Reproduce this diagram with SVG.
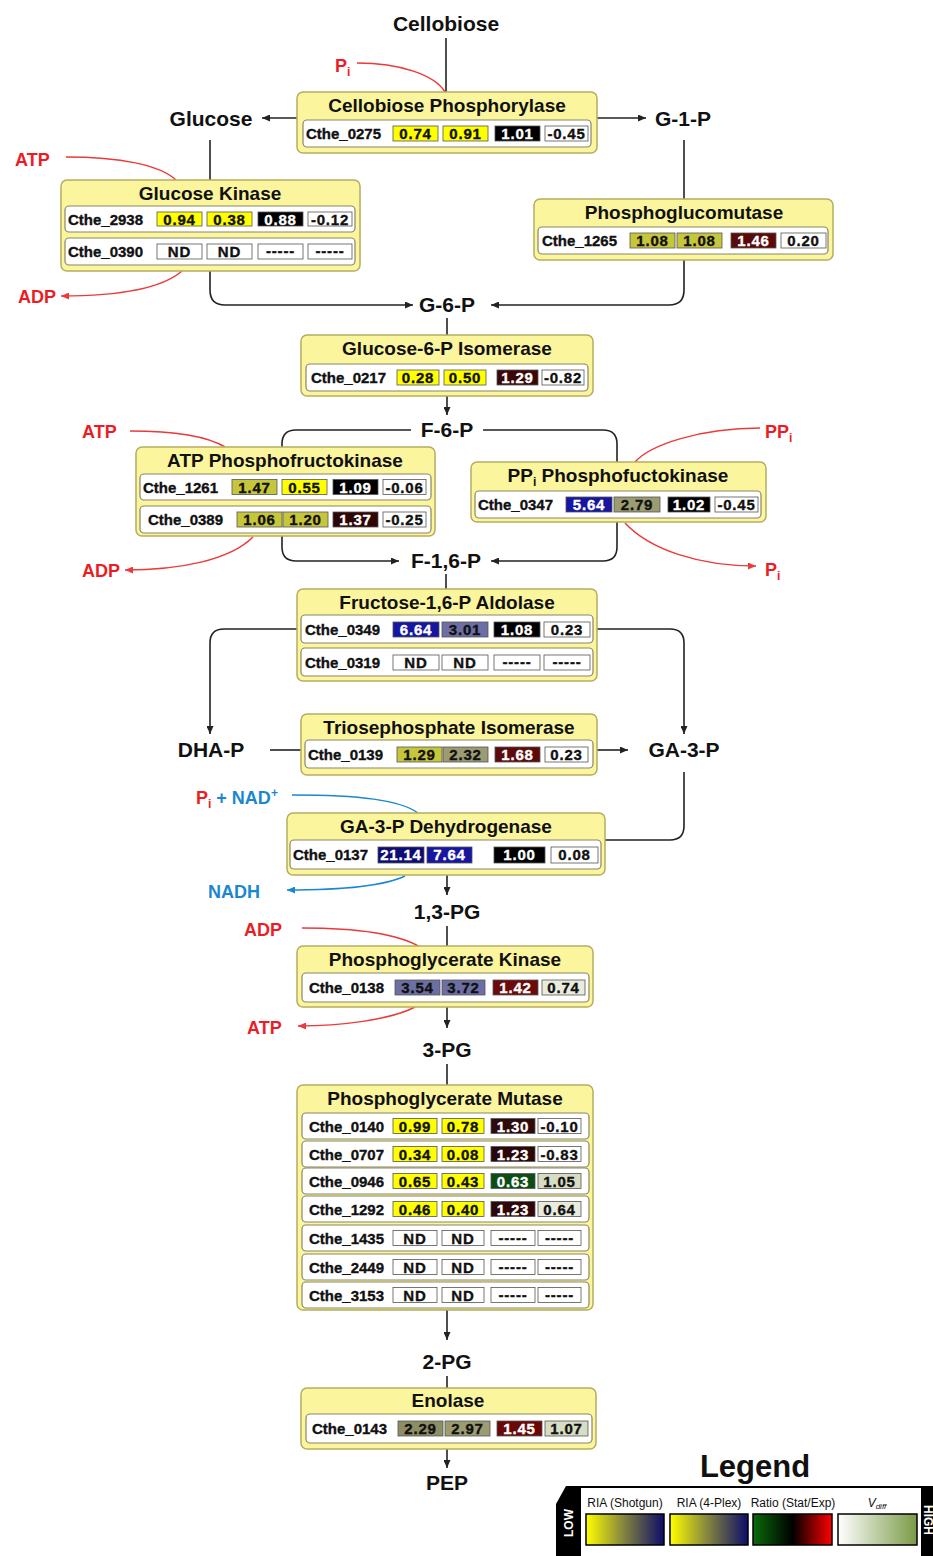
<svg xmlns="http://www.w3.org/2000/svg" width="933" height="1556" viewBox="0 0 933 1556">
<defs>
<style>
text{font-family:"Liberation Sans",Arial,sans-serif;font-weight:bold}
.enz{fill:#fbf59e;stroke:#b5ad62;stroke-width:1.5}
.row{fill:#fff;stroke:#8a8668;stroke-width:1.2}
.c{stroke:#555;stroke-width:0.8}
.t{font-size:19px;text-anchor:middle;fill:#111}
.id{font-size:15px;fill:#111;stroke:#111;stroke-width:0.35}
.v{font-size:15px;text-anchor:middle;fill:#111;stroke:#111;stroke-width:0.35;letter-spacing:0.8px}
.vw{fill:#fff;stroke:#fff}
.m{font-size:21px;text-anchor:middle;fill:#111}
.r{font-size:18px;fill:#ec1c24}
.b{font-size:18px;fill:#1b87cf}
.ln{fill:none;stroke:#222;stroke-width:1.6}
.lr{fill:none;stroke:#ec3a3a;stroke-width:1.5}
.lb{fill:none;stroke:#1b87cf;stroke-width:1.5}
.Y{fill:#ffff00}.O{fill:#c6c63c}.G{fill:#9c9c72}.B{fill:#6c6ea4}.N{fill:#1616a0}.D{fill:#0c0c74}.K{fill:#000}.W{fill:#fff}.L{fill:#e9ecdc}.L2{fill:#d6ddc2}.GR{fill:#0b4d14}
.lg{font-family:"Liberation Sans",Arial,sans-serif;font-weight:normal;font-size:12px;text-anchor:middle;fill:#111}
</style>
<marker id="ak" viewBox="0 0 8 7" refX="8" refY="3.5" markerWidth="8" markerHeight="7" markerUnits="userSpaceOnUse" orient="auto"><path d="M0,0L8,3.5L0,7z" fill="#222"/></marker>
<marker id="ar" viewBox="0 0 8 7" refX="8" refY="3.5" markerWidth="8" markerHeight="7" markerUnits="userSpaceOnUse" orient="auto"><path d="M0,0L8,3.5L0,7z" fill="#ec3a3a"/></marker>
<marker id="ab" viewBox="0 0 8 7" refX="8" refY="3.5" markerWidth="8" markerHeight="7" markerUnits="userSpaceOnUse" orient="auto"><path d="M0,0L8,3.5L0,7z" fill="#1b87cf"/></marker>
<linearGradient id="g1"><stop offset="0" stop-color="#ffff00"/><stop offset="0.45" stop-color="#8c8c3c"/><stop offset="1" stop-color="#0c0c6a"/></linearGradient>
<linearGradient id="g3"><stop offset="0" stop-color="#0a6a0a"/><stop offset="0.5" stop-color="#000"/><stop offset="1" stop-color="#ff0000"/></linearGradient>
<linearGradient id="g4"><stop offset="0" stop-color="#ffffff"/><stop offset="1" stop-color="#7a9a46"/></linearGradient>
</defs>
<rect width="933" height="1556" fill="#fff"/>

<g id="connectors">
<path class="ln" d="M446,38V92"/>
<path class="ln" d="M297,118H262" marker-end="url(#ak)"/>
<path class="ln" d="M597,118H646" marker-end="url(#ak)"/>
<path class="ln" d="M210,140V180"/>
<path class="ln" d="M210,271V290Q210,305 225,305H413" marker-end="url(#ak)"/>
<path class="ln" d="M684,140V199"/>
<path class="ln" d="M684,260V290Q684,305 669,305H491" marker-end="url(#ak)"/>
<path class="ln" d="M447,318V335"/>
<path class="ln" d="M447,396V415" marker-end="url(#ak)"/>
<path class="ln" d="M411,430H296Q282,430 282,444V447"/>
<path class="ln" d="M483,430H603Q617,430 617,444V462"/>
<path class="ln" d="M282,536V547Q282,561 296,561H399" marker-end="url(#ak)"/>
<path class="ln" d="M617,522V547Q617,561 603,561H491" marker-end="url(#ak)"/>
<path class="ln" d="M446,574V589"/>
<path class="ln" d="M297,629H224Q210,629 210,643V734" marker-end="url(#ak)"/>
<path class="ln" d="M597,629H670Q684,629 684,643V734" marker-end="url(#ak)"/>
<path class="ln" d="M270,750H301"/>
<path class="ln" d="M597,750H628" marker-end="url(#ak)"/>
<path class="ln" d="M684,772V826Q684,840 670,840H605"/>
<path class="ln" d="M447,875V895" marker-end="url(#ak)"/>
<path class="ln" d="M447,926V946"/>
<path class="ln" d="M447,1007V1028" marker-end="url(#ak)"/>
<path class="ln" d="M447,1064V1085"/>
<path class="ln" d="M447,1310V1340" marker-end="url(#ak)"/>
<path class="ln" d="M447,1376V1388"/>
<path class="ln" d="M447,1449V1468" marker-end="url(#ak)"/>
<path class="lr" d="M357,63C400,63 435,75 445,92"/>
<path class="lr" d="M66,157C120,157 160,165 176,180"/>
<path class="lr" d="M182,271C160,290 110,296 61,296" marker-end="url(#ar)"/>
<path class="lr" d="M130,431C180,431 210,438 225,447"/>
<path class="lr" d="M253,537C230,560 180,570 125,570" marker-end="url(#ar)"/>
<path class="lr" d="M760,428C700,428 650,445 635,462"/>
<path class="lr" d="M625,523C650,550 700,566 756,566" marker-end="url(#ar)"/>
<path class="lb" d="M292,795C360,795 400,800 418,813"/>
<path class="lb" d="M405,876C380,888 330,890 287,890" marker-end="url(#ab)"/>
<path class="lr" d="M302,928C360,928 400,935 420,947"/>
<path class="lr" d="M415,1007C390,1020 340,1026 298,1026" marker-end="url(#ar)"/>
</g>

<g id="metabolites">
<text class="m" x="446" y="31">Cellobiose</text>
<text class="m" x="211" y="126">Glucose</text>
<text class="m" x="683" y="126">G-1-P</text>
<text class="m" x="447" y="312">G-6-P</text>
<text class="m" x="447" y="437">F-6-P</text>
<text class="m" x="446" y="568">F-1,6-P</text>
<text class="m" x="211" y="757">DHA-P</text>
<text class="m" x="684" y="757">GA-3-P</text>
<text class="m" x="447" y="919">1,3-PG</text>
<text class="m" x="447" y="1057">3-PG</text>
<text class="m" x="447" y="1369">2-PG</text>
<text class="m" x="447" y="1490">PEP</text>
</g>

<g id="cofactors">
<text class="r" x="335" y="72">P<tspan font-size="12" dy="4">i</tspan></text>
<text class="r" x="15" y="166">ATP</text>
<text class="r" x="18" y="303">ADP</text>
<text class="r" x="82" y="438">ATP</text>
<text class="r" x="82" y="577">ADP</text>
<text class="r" x="765" y="438">PP<tspan font-size="12" dy="4">i</tspan></text>
<text class="r" x="765" y="576">P<tspan font-size="12" dy="4">i</tspan></text>
<text class="r" x="196" y="804">P<tspan font-size="12" dy="4">i</tspan><tspan fill="#1b87cf" dy="-4"> + NAD</tspan><tspan fill="#1b87cf" font-size="12" dy="-7">+</tspan></text>
<text class="b" x="208" y="898">NADH</text>
<text class="r" x="244" y="936">ADP</text>
<text class="r" x="247" y="1034">ATP</text>
</g>

<g id="cellobiose-phosphorylase">
<rect class="enz" x="297" y="92" width="300" height="61" rx="6"/>
<text class="t" x="447" y="112">Cellobiose Phosphorylase</text>
<rect class="row" x="303" y="120" width="288" height="27" rx="4"/>
<text class="id" x="306" y="139">Cthe_0275</text>
<rect class="c Y" x="393" y="126" width="45" height="15"/><text class="v" x="415.5" y="139">0.74</text>
<rect class="c Y" x="443" y="126" width="45" height="15"/><text class="v" x="465.5" y="139">0.91</text>
<rect class="c K" x="495" y="126" width="45" height="15"/><text class="v vw" x="517.5" y="139">1.01</text>
<rect class="c W" x="545" y="126" width="43" height="15"/><text class="v" x="566.5" y="139">-0.45</text>
</g>

<g id="glucose-kinase">
<rect class="enz" x="61" y="180" width="299" height="91" rx="6"/>
<text class="t" x="210" y="200">Glucose Kinase</text>
<rect class="row" x="65" y="206" width="290" height="26" rx="4"/>
<text class="id" x="68" y="224.5">Cthe_2938</text>
<rect class="c Y" x="157" y="212" width="45" height="14"/><text class="v" x="179.5" y="224.5">0.94</text>
<rect class="c Y" x="207" y="212" width="45" height="14"/><text class="v" x="229.5" y="224.5">0.38</text>
<rect class="c K" x="258" y="212" width="45" height="14"/><text class="v vw" x="280.5" y="224.5">0.88</text>
<rect class="c W" x="308" y="212" width="44" height="14"/><text class="v" x="330" y="224.5">-0.12</text>
<rect class="row" x="65" y="238" width="290" height="27" rx="4"/>
<text class="id" x="68" y="257">Cthe_0390</text>
<rect class="c W" x="157" y="244" width="45" height="15"/><text class="v" x="179.5" y="257">ND</text>
<rect class="c W" x="207" y="244" width="45" height="15"/><text class="v" x="229.5" y="257">ND</text>
<rect class="c W" x="258" y="244" width="45" height="15"/><text class="v" x="280.5" y="256">-----</text>
<rect class="c W" x="308" y="244" width="44" height="15"/><text class="v" x="330" y="256">-----</text>
</g>

<g id="phosphoglucomutase">
<rect class="enz" x="534" y="199" width="299" height="61" rx="6"/>
<text class="t" x="684" y="219">Phosphoglucomutase</text>
<rect class="row" x="538" y="227" width="290" height="27" rx="4"/>
<text class="id" x="542" y="246">Cthe_1265</text>
<rect class="c O" x="630" y="233" width="45" height="15"/><text class="v" x="652.5" y="246">1.08</text>
<rect class="c O" x="677" y="233" width="45" height="15"/><text class="v" x="699.5" y="246">1.08</text>
<rect class="c" fill="#5a0a0a" x="731" y="233" width="45" height="15"/><text class="v vw" x="753.5" y="246">1.46</text>
<rect class="c W" x="781" y="233" width="45" height="15"/><text class="v" x="803.5" y="246">0.20</text>
</g>

<g id="glucose-6-p-isomerase">
<rect class="enz" x="301" y="335" width="292" height="61" rx="6"/>
<text class="t" x="447" y="355">Glucose-6-P Isomerase</text>
<rect class="row" x="306" y="364" width="282" height="27" rx="4"/>
<text class="id" x="311" y="383">Cthe_0217</text>
<rect class="c Y" x="397" y="370" width="42" height="15"/><text class="v" x="418" y="383">0.28</text>
<rect class="c Y" x="444" y="370" width="42" height="15"/><text class="v" x="465" y="383">0.50</text>
<rect class="c" fill="#3a0808" x="497" y="370" width="41" height="15"/><text class="v vw" x="517.5" y="383">1.29</text>
<rect class="c W" x="542" y="370" width="42" height="15"/><text class="v" x="563" y="383">-0.82</text>
</g>

<g id="atp-phosphofructokinase">
<rect class="enz" x="136" y="447" width="299" height="89" rx="6"/>
<text class="t" x="285" y="467">ATP Phosphofructokinase</text>
<rect class="row" x="140" y="474" width="291" height="26" rx="4"/>
<text class="id" x="143" y="492.5">Cthe_1261</text>
<rect class="c O" x="232" y="479.5" width="45" height="15"/><text class="v" x="254.5" y="492.5">1.47</text>
<rect class="c Y" x="282" y="479.5" width="45" height="15"/><text class="v" x="304.5" y="492.5">0.55</text>
<rect class="c K" x="333" y="479.5" width="45" height="15"/><text class="v vw" x="355.5" y="492.5">1.09</text>
<rect class="c W" x="383" y="479.5" width="43" height="15"/><text class="v" x="404.5" y="492.5">-0.06</text>
<rect class="row" x="140" y="506" width="291" height="27" rx="4"/>
<text class="id" x="148" y="525">Cthe_0389</text>
<rect class="c O" x="237" y="512" width="45" height="15"/><text class="v" x="259.5" y="525">1.06</text>
<rect class="c O" x="283" y="512" width="45" height="15"/><text class="v" x="305.5" y="525">1.20</text>
<rect class="c" fill="#2e0606" x="333" y="512" width="45" height="15"/><text class="v vw" x="355.5" y="525">1.37</text>
<rect class="c W" x="383" y="512" width="43" height="15"/><text class="v" x="404.5" y="525">-0.25</text>
</g>

<g id="ppi-phosphofructokinase">
<rect class="enz" x="471" y="462" width="295" height="60" rx="6"/>
<text class="t" x="618" y="482">PP<tspan font-size="12" dy="4">i</tspan><tspan dy="-4"> Phosphofuctokinase</tspan></text>
<rect class="row" x="475" y="491" width="286" height="27" rx="4"/>
<text class="id" x="478" y="510">Cthe_0347</text>
<rect class="c N" x="566" y="497" width="46" height="15"/><text class="v vw" x="589" y="510">5.64</text>
<rect class="c G" x="614" y="497" width="46" height="15"/><text class="v" x="637" y="510">2.79</text>
<rect class="c K" x="668" y="497" width="42" height="15"/><text class="v vw" x="689" y="510">1.02</text>
<rect class="c W" x="715" y="497" width="43" height="15"/><text class="v" x="736.5" y="510">-0.45</text>
</g>

<g id="fructose-aldolase">
<rect class="enz" x="297" y="589" width="300" height="92" rx="6"/>
<text class="t" x="447" y="609">Fructose-1,6-P Aldolase</text>
<rect class="row" x="301" y="615" width="292" height="28" rx="4"/>
<text class="id" x="305" y="634.5">Cthe_0349</text>
<rect class="c N" x="393" y="622" width="46" height="15"/><text class="v vw" x="416" y="634.5">6.64</text>
<rect class="c B" x="442" y="622" width="46" height="15"/><text class="v" x="465" y="634.5" fill="#1a1a3a">3.01</text>
<rect class="c K" x="494" y="622" width="46" height="15"/><text class="v vw" x="517" y="634.5">1.08</text>
<rect class="c W" x="544" y="622" width="46" height="15"/><text class="v" x="567" y="634.5">0.23</text>
<rect class="row" x="301" y="648" width="292" height="28" rx="4"/>
<text class="id" x="305" y="667.5">Cthe_0319</text>
<rect class="c W" x="393" y="655" width="46" height="15"/><text class="v" x="416" y="667.5">ND</text>
<rect class="c W" x="442" y="655" width="46" height="15"/><text class="v" x="465" y="667.5">ND</text>
<rect class="c W" x="494" y="655" width="46" height="15"/><text class="v" x="517" y="666.5">-----</text>
<rect class="c W" x="544" y="655" width="46" height="15"/><text class="v" x="567" y="666.5">-----</text>
</g>

<g id="triosephosphate-isomerase">
<rect class="enz" x="301" y="714" width="296" height="61" rx="6"/>
<text class="t" x="449" y="734">Triosephosphate Isomerase</text>
<rect class="row" x="305" y="740" width="288" height="28" rx="4"/>
<text class="id" x="308" y="759.5">Cthe_0139</text>
<rect class="c O" x="397" y="747" width="45" height="15"/><text class="v" x="419.5" y="759.5">1.29</text>
<rect class="c G" x="443" y="747" width="45" height="15"/><text class="v" x="465.5" y="759.5">2.32</text>
<rect class="c" fill="#5c0b0b" x="495" y="747" width="45" height="15"/><text class="v vw" x="517.5" y="759.5">1.68</text>
<rect class="c W" x="545" y="747" width="43" height="15"/><text class="v" x="566.5" y="759.5">0.23</text>
</g>

<g id="ga-3-p-dehydrogenase">
<rect class="enz" x="287" y="813" width="318" height="62" rx="6"/>
<text class="t" x="446" y="833">GA-3-P Dehydrogenase</text>
<rect class="row" x="290" y="840" width="311" height="29" rx="4"/>
<text class="id" x="293" y="860">Cthe_0137</text>
<rect class="c D" x="378" y="847" width="46" height="16"/><text class="v vw" x="401" y="860" letter-spacing="0">21.14</text>
<rect class="c N" x="427" y="847" width="45" height="16"/><text class="v vw" x="449.5" y="860">7.64</text>
<rect class="c K" x="494" y="847" width="51" height="16"/><text class="v vw" x="519.5" y="860">1.00</text>
<rect class="c W" x="551" y="847" width="47" height="16"/><text class="v" x="574.5" y="860">0.08</text>
</g>

<g id="phosphoglycerate-kinase">
<rect class="enz" x="297" y="946" width="296" height="61" rx="6"/>
<text class="t" x="445" y="966">Phosphoglycerate Kinase</text>
<rect class="row" x="302" y="973" width="287" height="29" rx="4"/>
<text class="id" x="309" y="993">Cthe_0138</text>
<rect class="c B" x="395" y="980" width="45" height="15"/><text class="v" x="417.5" y="993" fill="#1a1a3a">3.54</text>
<rect class="c B" x="442" y="980" width="43" height="15"/><text class="v" x="463.5" y="993" fill="#1a1a3a">3.72</text>
<rect class="c" fill="#6a0a0a" x="493" y="980" width="45" height="15"/><text class="v vw" x="515.5" y="993">1.42</text>
<rect class="c L" x="542" y="980" width="43" height="15"/><text class="v" x="563.5" y="993">0.74</text>
</g>

<g id="phosphoglycerate-mutase">
<rect class="enz" x="297" y="1085" width="296" height="225" rx="6"/>
<text class="t" x="445" y="1105">Phosphoglycerate Mutase</text>
<rect class="row" x="302" y="1113" width="287" height="26" rx="4"/>
<text class="id" x="309" y="1131.5">Cthe_0140</text>
<rect class="c Y" x="393" y="1118.5" width="44" height="15"/><text class="v" x="415" y="1131.5">0.99</text>
<rect class="c Y" x="442" y="1118.5" width="42" height="15"/><text class="v" x="463" y="1131.5">0.78</text>
<rect class="c" fill="#2e0a0a" x="491" y="1118.5" width="44" height="15"/><text class="v vw" x="513" y="1131.5">1.30</text>
<rect class="c W" x="538" y="1118.5" width="43" height="15"/><text class="v" x="559.5" y="1131.5">-0.10</text>
<rect class="row" x="302" y="1141" width="287" height="26" rx="4"/>
<text class="id" x="309" y="1159.5">Cthe_0707</text>
<rect class="c Y" x="393" y="1146.5" width="44" height="15"/><text class="v" x="415" y="1159.5">0.34</text>
<rect class="c Y" x="442" y="1146.5" width="42" height="15"/><text class="v" x="463" y="1159.5">0.08</text>
<rect class="c" fill="#2a0808" x="491" y="1146.5" width="44" height="15"/><text class="v vw" x="513" y="1159.5">1.23</text>
<rect class="c W" x="538" y="1146.5" width="43" height="15"/><text class="v" x="559.5" y="1159.5">-0.83</text>
<rect class="row" x="302" y="1168" width="287" height="26" rx="4"/>
<text class="id" x="309" y="1186.5">Cthe_0946</text>
<rect class="c Y" x="393" y="1173.5" width="44" height="15"/><text class="v" x="415" y="1186.5">0.65</text>
<rect class="c Y" x="442" y="1173.5" width="42" height="15"/><text class="v" x="463" y="1186.5">0.43</text>
<rect class="c GR" x="491" y="1173.5" width="44" height="15"/><text class="v vw" x="513" y="1186.5">0.63</text>
<rect class="c L2" x="538" y="1173.5" width="43" height="15"/><text class="v" x="559.5" y="1186.5">1.05</text>
<rect class="row" x="302" y="1196" width="287" height="26" rx="4"/>
<text class="id" x="309" y="1214.5">Cthe_1292</text>
<rect class="c Y" x="393" y="1201.5" width="44" height="15"/><text class="v" x="415" y="1214.5">0.46</text>
<rect class="c Y" x="442" y="1201.5" width="42" height="15"/><text class="v" x="463" y="1214.5">0.40</text>
<rect class="c" fill="#2e0808" x="491" y="1201.5" width="44" height="15"/><text class="v vw" x="513" y="1214.5">1.23</text>
<rect class="c L" x="538" y="1201.5" width="43" height="15"/><text class="v" x="559.5" y="1214.5">0.64</text>
<rect class="row" x="302" y="1225" width="287" height="26" rx="4"/>
<text class="id" x="309" y="1243.5">Cthe_1435</text>
<rect class="c W" x="393" y="1230.5" width="44" height="15"/><text class="v" x="415" y="1243.5">ND</text>
<rect class="c W" x="442" y="1230.5" width="42" height="15"/><text class="v" x="463" y="1243.5">ND</text>
<rect class="c W" x="491" y="1230.5" width="44" height="15"/><text class="v" x="513" y="1242.5">-----</text>
<rect class="c W" x="538" y="1230.5" width="43" height="15"/><text class="v" x="559.5" y="1242.5">-----</text>
<rect class="row" x="302" y="1254" width="287" height="26" rx="4"/>
<text class="id" x="309" y="1272.5">Cthe_2449</text>
<rect class="c W" x="393" y="1259.5" width="44" height="15"/><text class="v" x="415" y="1272.5">ND</text>
<rect class="c W" x="442" y="1259.5" width="42" height="15"/><text class="v" x="463" y="1272.5">ND</text>
<rect class="c W" x="491" y="1259.5" width="44" height="15"/><text class="v" x="513" y="1271.5">-----</text>
<rect class="c W" x="538" y="1259.5" width="43" height="15"/><text class="v" x="559.5" y="1271.5">-----</text>
<rect class="row" x="302" y="1282" width="287" height="26" rx="4"/>
<text class="id" x="309" y="1300.5">Cthe_3153</text>
<rect class="c W" x="393" y="1287.5" width="44" height="15"/><text class="v" x="415" y="1300.5">ND</text>
<rect class="c W" x="442" y="1287.5" width="42" height="15"/><text class="v" x="463" y="1300.5">ND</text>
<rect class="c W" x="491" y="1287.5" width="44" height="15"/><text class="v" x="513" y="1299.5">-----</text>
<rect class="c W" x="538" y="1287.5" width="43" height="15"/><text class="v" x="559.5" y="1299.5">-----</text>
</g>

<g id="enolase">
<rect class="enz" x="301" y="1388" width="295" height="61" rx="6"/>
<text class="t" x="448" y="1407">Enolase</text>
<rect class="row" x="306" y="1414" width="286" height="29" rx="4"/>
<text class="id" x="312" y="1434">Cthe_0143</text>
<rect class="c" fill="#8e8e64" x="398" y="1421" width="45" height="15"/><text class="v" x="420.5" y="1434">2.29</text>
<rect class="c G" x="445" y="1421" width="45" height="15"/><text class="v" x="467.5" y="1434">2.97</text>
<rect class="c" fill="#6a0808" x="497" y="1421" width="45" height="15"/><text class="v vw" x="519.5" y="1434">1.45</text>
<rect class="c L2" x="545" y="1421" width="43" height="15"/><text class="v" x="566.5" y="1434">1.07</text>
</g>

<g id="legend">
<text x="755" y="1477" font-size="31" text-anchor="middle" fill="#111">Legend</text>
<rect x="580" y="1487" width="343" height="80" fill="#fff" stroke="#000" stroke-width="2"/>
<polygon points="581,1486 566,1486 556,1504 556,1556 581,1556" fill="#000"/>
<text x="573" y="1523" font-size="12" fill="#fff" text-anchor="middle" transform="rotate(-90 573 1523)">LOW</text>
<rect x="921" y="1486" width="12" height="70" fill="#000"/>
<text x="924" y="1520" font-size="12" fill="#fff" text-anchor="middle" transform="rotate(90 924 1520)">HIGH</text>
<text class="lg" x="625" y="1507">RIA (Shotgun)</text>
<text class="lg" x="709" y="1507">RIA (4-Plex)</text>
<text class="lg" x="793" y="1507">Ratio (Stat/Exp)</text>
<text class="lg" x="877" y="1507" font-style="italic">V<tspan font-size="8" dy="2">diff</tspan></text>
<rect x="586" y="1514" width="78" height="31" fill="url(#g1)" stroke="#000" stroke-width="1.5"/>
<rect x="670" y="1514" width="78" height="31" fill="url(#g1)" stroke="#000" stroke-width="1.5"/>
<rect x="753" y="1514" width="79" height="31" fill="url(#g3)" stroke="#000" stroke-width="1.5"/>
<rect x="838" y="1514" width="79" height="31" fill="url(#g4)" stroke="#000" stroke-width="1.5"/>
</g>
</svg>
